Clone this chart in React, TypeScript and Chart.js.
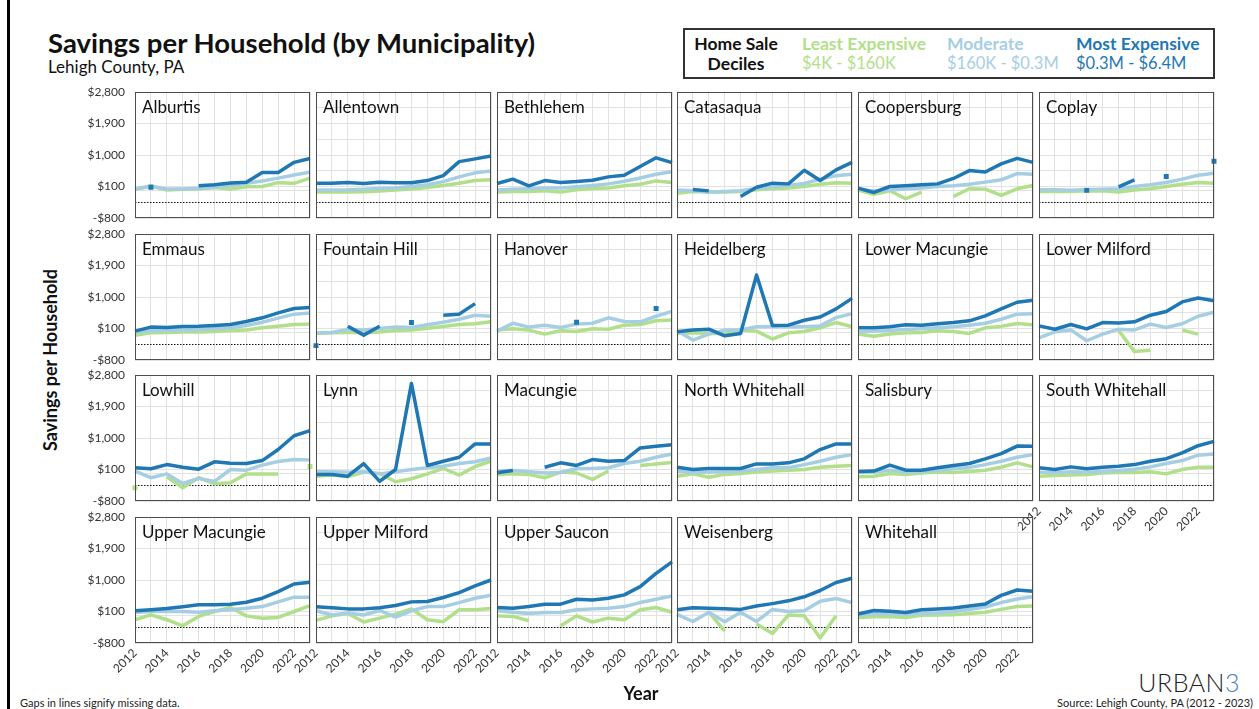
import React, { useEffect, useRef } from 'react';
import { Chart, registerables } from 'chart.js';

Chart.register(...registerables);

const FONT = 'Lato, "Noto Sans", sans-serif';
const n = null;

const YEARS = ['2012', '2013', '2014', '2015', '2016', '2017', '2018', '2019', '2020', '2021', '2022', '2023'];
const Y_GRID = [-800, -350, 100, 550, 1000, 1450, 1900, 2350, 2800];
const Y_LABELS = [-800, 100, 1000, 1900, 2800];
const Y_MIN = -800;
const Y_MAX = 2800;
const ZERO_LINE = 0;
const DOTTED_LINE = -350;

const SERIES_NAMES = ['Least Expensive', 'Moderate', 'Most Expensive'];
const SERIES_RANGES = ['$4K - $160K', '$160K - $0.3M', '$0.3M - $6.4M'];
const SERIES_COLORS = ['#b2df8a', '#a6cee3', '#1f78b4'];

// Least / Moderate / Most expensive deciles, 2012..2023
const ALBURTIS_LEAST = [20, 120, 0, 20, 30, 70, 30, 90, 100, 210, 190, 340];
const ALBURTIS_MOD = [20, 100, 30, 30, 50, 80, 130, 190, 260, 340, 430, 510];
const ALBURTIS_MOST = [n, 80, n, n, 120, 150, 200, 220, 500, 500, 790, 900];

const ALLENTOWN_LEAST = [-60, -60, -60, -50, -30, 0, 25, 70, 130, 195, 270, 290];
const ALLENTOWN_MOD = [0, 0, 5, 25, 45, 60, 100, 150, 240, 375, 490, 540];
const ALLENTOWN_MOST = [195, 195, 215, 185, 220, 210, 210, 270, 410, 810, 890, 970];

const BETHLEHEM_LEAST = [-60, -40, -40, -25, -60, 5, 45, 55, 120, 165, 260, 215];
const BETHLEHEM_MOD = [0, 25, 35, 55, 60, 90, 130, 175, 250, 345, 450, 520];
const BETHLEHEM_MOST = [185, 310, 120, 270, 215, 240, 280, 375, 420, 670, 920, 780];

const CATASAQUA_LEAST = [-90, -40, -60, -60, -40, 5, 35, 55, 100, 165, 205, 195];
const CATASAQUA_MOD = [0, -20, -60, -40, -20, 45, 90, 130, 185, 310, 410, 450];
const CATASAQUA_MOST = [n, 15, -25, n, -185, 80, 195, 175, 565, 270, 575, 790];

const COOPERSBURG_LEAST = [0, -120, -20, -250, -60, n, -185, 35, 25, -155, 35, 130];
const COOPERSBURG_MOD = [25, -25, 0, 25, 60, 100, 120, 165, 225, 290, 470, 450];
const COOPERSBURG_MOST = [55, -70, 100, 120, 150, 175, 330, 555, 515, 745, 905, 790];

const COPLAY_LEAST = [-40, -40, -40, -25, -25, -60, 0, 35, 100, 165, 215, 195];
const COPLAY_MOD = [5, 5, -10, 15, 25, 35, 100, 150, 215, 310, 420, 480];
const COPLAY_MOST = [n, n, n, -10, n, 90, 290, n, 385, n, n, 820];

const EMMAUS_LEAST = [-90, -25, -15, 0, 0, 15, 45, 60, 120, 165, 215, 225];
const EMMAUS_MOD = [0, 35, 45, 60, 70, 90, 120, 185, 280, 395, 510, 540];
const EMMAUS_MOST = [25, 140, 130, 160, 165, 185, 215, 300, 405, 545, 670, 700];

const FOUNTAIN_HILL_LEAST = [-40, -25, -15, -15, 0, 45, 60, 110, 160, 215, 235, 290];
const FOUNTAIN_HILL_MOD = [-25, -15, 70, 55, 100, 140, 130, 205, 280, 365, 480, 450];
const FOUNTAIN_HILL_MOST = [-390, n, 165, -90, 165, n, 270, n, 480, 510, 810, n];

const HANOVER_LEAST = [55, 90, 55, -60, 35, 15, 90, 80, 195, 215, 320, 340];
const HANOVER_MOD = [25, 250, 140, 195, 130, 225, 250, 405, 300, 290, 450, 590];
const HANOVER_MOST = [n, n, n, n, n, 280, n, n, n, n, 670, n];

const HEIDELBERG_LEAST = [-40, -25, -40, -40, 55, 25, -200, -25, 15, 120, 270, 150];
const HEIDELBERG_MOD = [35, -230, -60, 55, 55, 150, 150, 150, 150, 175, 410, 525];
const HEIDELBERG_MOST = [5, 55, 80, -110, -40, 1630, 185, 195, 335, 430, 660, 960];

const LOWER_MACUNGIE_LEAST = [-60, -120, -60, -25, -15, 35, 15, -40, 120, 160, 245, 205];
const LOWER_MACUNGIE_MOD = [5, 25, 45, 70, 90, 120, 150, 195, 250, 365, 510, 520];
const LOWER_MACUNGIE_MOST = [120, 120, 150, 205, 195, 235, 270, 320, 460, 660, 850, 905];

const LOWER_MILFORD_LEAST = [n, n, n, n, n, 50, -560, -520, n, 55, -60, n];
const LOWER_MILFORD_MOD = [-165, 5, 60, -250, -60, 80, 60, 225, 130, 235, 450, 565];
const LOWER_MILFORD_MOST = [175, 80, 215, 90, 270, 260, 290, 480, 585, 860, 970, 895];

const LOWHILL_LEAST = [-420, n, -110, -420, -135, -310, -280, -25, -25, -25, n, 185];
const LOWHILL_MOD = [55, -135, -25, -300, -155, -240, 100, 80, 225, 330, 385, 375];
const LOWHILL_MOST = [150, 120, 240, 165, 110, 320, 280, 270, 355, 670, 1065, 1210];

const LYNN_LEAST = [-90, -60, -110, 25, -15, -250, -165, -25, 130, -60, 185, 340];
const LYNN_MOD = [35, 35, 25, 35, -25, 35, 100, 150, 195, 270, 320, 430];
const LYNN_MOST = [-40, -40, -90, 270, -240, 100, 2560, 215, 335, 450, 830, 830];

const MACUNGIE_LEAST = [-40, -25, -40, -135, 25, 0, -185, 55, n, 215, 260, 300];
const MACUNGIE_MOD = [55, 70, 35, 0, 15, 120, 130, 150, 270, 335, 450, 545];
const MACUNGIE_MOST = [5, 70, n, 165, 290, 215, 385, 335, 355, 715, 765, 810];

const NORTH_WHITEHALL_LEAST = [-90, -25, -120, -40, -15, 25, 55, 80, 100, 165, 195, 215];
const NORTH_WHITEHALL_MOD = [55, 5, 25, 35, 55, 100, 150, 150, 240, 335, 450, 525];
const NORTH_WHITEHALL_MOST = [165, 100, 130, 130, 130, 260, 260, 290, 405, 670, 830, 830];

const SALISBURY_LEAST = [-110, -90, -15, -40, 0, 25, 15, 45, 80, 165, 290, 175];
const SALISBURY_MOD = [25, 25, 80, 25, 45, 80, 120, 160, 240, 335, 450, 525];
const SALISBURY_MOST = [45, 55, 225, 80, 80, 150, 215, 270, 405, 555, 770, 765];

const SOUTH_WHITEHALL_LEAST = [-90, -70, -60, -40, 0, 15, 15, 35, -25, 100, 165, 165];
const SOUTH_WHITEHALL_MOD = [25, 5, 35, 25, 45, 70, 110, 175, 270, 355, 510, 545];
const SOUTH_WHITEHALL_MOST = [150, 100, 175, 120, 165, 195, 240, 335, 410, 575, 780, 905];

const UPPER_MACUNGIE_LEAST = [-135, 5, -135, -310, -40, 100, 215, -25, -90, -70, 100, 270];
const UPPER_MACUNGIE_MOD = [70, 100, 100, 100, 80, 120, 150, 195, 240, 375, 510, 510];
const UPPER_MACUNGIE_MOST = [120, 150, 185, 235, 290, 290, 310, 365, 480, 670, 885, 935];

const UPPER_MILFORD_LEAST = [-155, -25, 45, -200, -90, 25, 175, -135, -190, 150, 150, 185];
const UPPER_MILFORD_MOD = [120, 0, 55, 0, 130, -60, 120, 240, 240, 355, 480, 565];
const UPPER_MILFORD_MOST = [235, 205, 175, 175, 205, 270, 375, 385, 500, 640, 830, 1000];

const UPPER_SAUCON_LEAST = [-25, -40, -165, n, -310, -25, -200, -90, -135, 150, 215, 80];
const UPPER_SAUCON_MOD = [120, 80, 45, 70, 70, 150, 175, 195, 240, 355, 450, 545];
const UPPER_SAUCON_MOST = [215, 195, 240, 310, 310, 450, 430, 480, 575, 810, 1190, 1520];

const WEISENBERG_LEAST = [n, n, 80, -460, n, -260, -530, 0, -20, -655, -20, n];
const WEISENBERG_MOD = [20, -185, 80, -195, 80, -185, 160, 100, 120, 395, 470, 355];
const WEISENBERG_MOST = [150, 210, 190, 180, 160, 255, 325, 405, 520, 700, 930, 1050];

const WHITEHALL_LEAST = [-70, -50, -40, -75, -10, 0, 10, 40, 80, 160, 245, 255];
const WHITEHALL_MOD = [0, 30, 30, 20, 40, 60, 100, 160, 230, 355, 455, 520];
const WHITEHALL_MOST = [30, 130, 110, 70, 150, 170, 200, 255, 315, 560, 715, 680];

const PANELS = [
  { name: 'Alburtis', series: [ALBURTIS_LEAST, ALBURTIS_MOD, ALBURTIS_MOST] },
  { name: 'Allentown', series: [ALLENTOWN_LEAST, ALLENTOWN_MOD, ALLENTOWN_MOST] },
  { name: 'Bethlehem', series: [BETHLEHEM_LEAST, BETHLEHEM_MOD, BETHLEHEM_MOST] },
  { name: 'Catasaqua', series: [CATASAQUA_LEAST, CATASAQUA_MOD, CATASAQUA_MOST] },
  { name: 'Coopersburg', series: [COOPERSBURG_LEAST, COOPERSBURG_MOD, COOPERSBURG_MOST] },
  { name: 'Coplay', series: [COPLAY_LEAST, COPLAY_MOD, COPLAY_MOST] },
  { name: 'Emmaus', series: [EMMAUS_LEAST, EMMAUS_MOD, EMMAUS_MOST] },
  { name: 'Fountain Hill', series: [FOUNTAIN_HILL_LEAST, FOUNTAIN_HILL_MOD, FOUNTAIN_HILL_MOST] },
  { name: 'Hanover', series: [HANOVER_LEAST, HANOVER_MOD, HANOVER_MOST] },
  { name: 'Heidelberg', series: [HEIDELBERG_LEAST, HEIDELBERG_MOD, HEIDELBERG_MOST] },
  { name: 'Lower Macungie', series: [LOWER_MACUNGIE_LEAST, LOWER_MACUNGIE_MOD, LOWER_MACUNGIE_MOST] },
  { name: 'Lower Milford', series: [LOWER_MILFORD_LEAST, LOWER_MILFORD_MOD, LOWER_MILFORD_MOST] },
  { name: 'Lowhill', series: [LOWHILL_LEAST, LOWHILL_MOD, LOWHILL_MOST] },
  { name: 'Lynn', series: [LYNN_LEAST, LYNN_MOD, LYNN_MOST] },
  { name: 'Macungie', series: [MACUNGIE_LEAST, MACUNGIE_MOD, MACUNGIE_MOST] },
  { name: 'North Whitehall', series: [NORTH_WHITEHALL_LEAST, NORTH_WHITEHALL_MOD, NORTH_WHITEHALL_MOST] },
  { name: 'Salisbury', series: [SALISBURY_LEAST, SALISBURY_MOD, SALISBURY_MOST] },
  { name: 'South Whitehall', series: [SOUTH_WHITEHALL_LEAST, SOUTH_WHITEHALL_MOD, SOUTH_WHITEHALL_MOST] },
  { name: 'Upper Macungie', series: [UPPER_MACUNGIE_LEAST, UPPER_MACUNGIE_MOD, UPPER_MACUNGIE_MOST] },
  { name: 'Upper Milford', series: [UPPER_MILFORD_LEAST, UPPER_MILFORD_MOD, UPPER_MILFORD_MOST] },
  { name: 'Upper Saucon', series: [UPPER_SAUCON_LEAST, UPPER_SAUCON_MOD, UPPER_SAUCON_MOST] },
  { name: 'Weisenberg', series: [WEISENBERG_LEAST, WEISENBERG_MOD, WEISENBERG_MOST] },
  { name: 'Whitehall', series: [WHITEHALL_LEAST, WHITEHALL_MOD, WHITEHALL_MOST] },
];

// layout
const COLS = 6;
const COL_X = [135, 316, 497, 677, 858, 1039];
const ROW_Y = [92, 234, 375, 517];
const PW = 175;
const PH = 126;
const PAD_L = 64;
const PAD_T = 20;
const PAD_R = 16;
const PAD_B = 46;
const GRID = '#e2e2e2';

const fmtMoney = (v: number) => (v < 0 ? '-$' : '$') + Math.abs(v).toLocaleString('en-US');

const isIsolated = (ctx: any) => {
  const d = ctx.dataset.data;
  const i = ctx.dataIndex;
  if (d[i] == null) return false;
  const prev = i > 0 ? d[i - 1] : null;
  const next = i < d.length - 1 ? d[i + 1] : null;
  return prev == null && next == null;
};

const decoPlugin = (name: string) => ({
  id: 'panelDeco',
  beforeDatasetsDraw(chart: any) {
    const { ctx, chartArea: a, scales } = chart;
    const y = scales.y;
    ctx.save();
    const y0 = Math.round(y.getPixelForValue(ZERO_LINE)) + 0.5;
    ctx.strokeStyle = GRID;
    ctx.lineWidth = 1;
    ctx.beginPath();
    ctx.moveTo(a.left, y0);
    ctx.lineTo(a.right, y0);
    ctx.stroke();
    const yd = Math.round(y.getPixelForValue(DOTTED_LINE)) + 0.5;
    ctx.strokeStyle = '#111';
    ctx.setLineDash([1.5, 1.5]);
    ctx.beginPath();
    ctx.moveTo(a.left, yd);
    ctx.lineTo(a.right, yd);
    ctx.stroke();
    ctx.restore();
  },
  afterDatasetsDraw(chart: any) {
    const { ctx, chartArea: a } = chart;
    ctx.save();
    ctx.strokeStyle = '#4d4d4d';
    ctx.lineWidth = 1;
    ctx.strokeRect(a.left + 0.5, a.top + 0.5, a.right - a.left - 1, a.bottom - a.top - 1);
    ctx.fillStyle = '#111';
    ctx.font = `17px ${FONT}`;
    ctx.textBaseline = 'alphabetic';
    ctx.textAlign = 'left';
    ctx.fillText(name, a.left + 7, a.top + 21);
    ctx.restore();
  },
});

function Panel({ panel, index }: { panel: any; index: number }) {
  const ref = useRef<HTMLCanvasElement>(null);
  const col = index % COLS;
  const row = Math.floor(index / COLS);
  const showY = col === 0;
  const showX = index + COLS >= PANELS.length;

  useEffect(() => {
    if (!ref.current) return;
    const mk = (si: number) => ({
      label: SERIES_NAMES[si],
      data: panel.series[si],
      borderColor: SERIES_COLORS[si],
      backgroundColor: SERIES_COLORS[si],
      borderWidth: 3.5,
      borderJoinStyle: 'round' as const,
      borderCapStyle: 'butt' as const,
      tension: 0,
      spanGaps: false,
      pointStyle: 'rect' as const,
      pointBorderWidth: 0,
      pointRadius: (ctx: any) => (isIsolated(ctx) ? 3.5 : 0),
      pointHoverRadius: 0,
    });
    const chart = new Chart(ref.current, {
      type: 'line',
      data: { labels: YEARS, datasets: [mk(2), mk(1), mk(0)] },
      options: {
        animation: false,
        responsive: false,
        events: [],
        layout: { padding: { top: PAD_T, right: PAD_R, left: 0, bottom: 0 } },
        plugins: { legend: { display: false }, tooltip: { enabled: false }, title: { display: false } },
        scales: {
          x: {
            type: 'category',
            offset: false,
            grid: { color: GRID, drawTicks: false, offset: false },
            border: { display: false },
            ticks: {
              display: showX,
              autoSkip: false,
              minRotation: 45,
              maxRotation: 45,
              padding: 3,
              color: '#333',
              font: { family: FONT, size: 12 },
              callback: (_v: any, i: number) => (i % 2 === 0 ? YEARS[i] : ''),
            },
            afterFit: (s: any) => {
              s.height = PAD_B;
            },
          },
          y: {
            type: 'linear',
            min: Y_MIN,
            max: Y_MAX,
            grid: { color: GRID, drawTicks: false },
            border: { display: false },
            afterBuildTicks: (s: any) => {
              s.ticks = Y_GRID.map((v) => ({ value: v }));
            },
            ticks: {
              display: showY,
              padding: 10,
              color: '#333',
              font: { family: FONT, size: 12 },
              callback: (v: any) => (Y_LABELS.includes(Number(v)) ? fmtMoney(Number(v)) : ''),
            },
            afterFit: (s: any) => {
              s.width = PAD_L;
            },
          },
        },
      } as any,
      plugins: [decoPlugin(panel.name)],
    });
    return () => chart.destroy();
  }, []);

  return (
    <canvas
      ref={ref}
      width={PAD_L + PW + PAD_R}
      height={PAD_T + PH + PAD_B}
      style={{ position: 'absolute', left: COL_X[col] - PAD_L, top: ROW_Y[row] - PAD_T }}
    />
  );
}

export default function App() {
  const abs = (s: any) => ({ position: 'absolute' as const, whiteSpace: 'nowrap' as const, lineHeight: 1, ...s });
  return (
    <div style={{ position: 'absolute', left: 0, top: 0, width: 1259, height: 709, background: '#fff', fontFamily: FONT, overflow: 'hidden', color: '#111' }}>
      <div style={{ position: 'absolute', left: 7, top: 0, width: 3, height: 709, background: '#000' }} />
      <div style={abs({ left: 48, top: 29, fontSize: 27.5, fontWeight: 700 })}>Savings per Household (by Municipality)</div>
      <div style={abs({ left: 48, top: 58, fontSize: 17 })}>Lehigh County, PA</div>

      <div style={{ position: 'absolute', left: 683, top: 28, width: 528, height: 47, border: '2px solid #333' }} />
      <div style={abs({ left: 688, width: 96, textAlign: 'center', top: 35, fontSize: 17.5, fontWeight: 700 })}>Home Sale</div>
      <div style={abs({ left: 688, width: 96, textAlign: 'center', top: 55, fontSize: 17.5, fontWeight: 700 })}>Deciles</div>
      {[802, 947, 1076].map((x, i) => (
        <React.Fragment key={i}>
          <div style={abs({ left: x, top: 35, fontSize: 17.5, fontWeight: 700, color: SERIES_COLORS[i] })}>{SERIES_NAMES[i]}</div>
          <div style={abs({ left: x, top: 55, fontSize: 16.5, color: SERIES_COLORS[i] })}>{SERIES_RANGES[i]}</div>
        </React.Fragment>
      ))}

      <div style={abs({ left: 50, top: 360, fontSize: 18, fontWeight: 700, transform: 'translate(-50%, -50%) rotate(-90deg)' })}>Savings per Household</div>

      {PANELS.map((p, i) => (
        <Panel key={p.name} panel={p} index={i} />
      ))}

      <div style={abs({ left: 641, top: 684, fontSize: 18, fontWeight: 700, transform: 'translateX(-50%)' })}>Year</div>
      <div style={abs({ left: 20, top: 697, fontSize: 11, color: '#222' })}>Gaps in lines signify missing data.</div>
      <div style={abs({ right: 6, top: 697, fontSize: 11, color: '#222' })}>Source: Lehigh County, PA (2012 - 2023)</div>
      <div style={abs({ right: 19, top: 670, fontSize: 25, fontWeight: 300, letterSpacing: 0.5, color: '#222' })}>
        URBAN<span style={{ color: '#4a7cc0' }}>3</span>
      </div>
    </div>
  );
}
